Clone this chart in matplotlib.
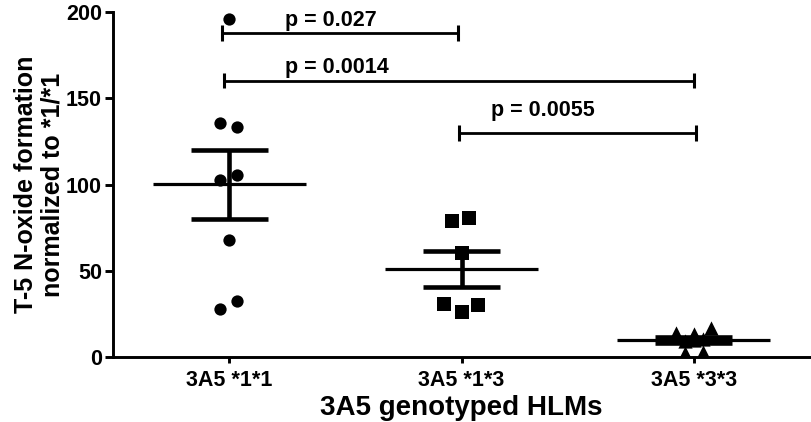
import matplotlib
matplotlib.use('Agg')
import matplotlib.pyplot as plt
import numpy as np

plt.rcParams['font.family'] = ['Liberation Sans', 'DejaVu Sans']
plt.rcParams['font.weight'] = 'bold'

groups = ['3A5 *1*1', '3A5 *1*3', '3A5 *3*3']
# values, normalized to *1/*1
g11 = [196, 135.8, 133.5, 102.6, 105.5, 67.8, 32.5, 27.8]
g13 = [79, 80.6, 60.3, 30.7, 26, 30.3]
g33 = [14, 13.3, 16.8, 2.3, 2.9, 9.5, 10, 10.4]
# horizontal scatter of the points around each group centre
jit11 = [0, -0.039, 0.034, -0.039, 0.034, 0, 0.034, -0.039]
jit13 = [-0.039, 0.034, 0, -0.077, 0, 0.073]
jit33 = [-0.077, 0, 0.073, -0.039, 0.039, -0.039, 0, 0.039]

# brackets: (x start, x end, y, text, text x, text y)
pvals = [(0.97, 1.985, 187.8, 'p = 0.027', 1.241, 192.0),
         (0.978, 3.0, 160.2, 'p = 0.0014', 1.241, 164.4),
         (1.99, 3.01, 130.0, 'p = 0.0055', 2.128, 140.0)]

fig = plt.figure(figsize=(8.12, 4.22), dpi=100)
ax = fig.add_axes([0.1392, 0.154, 0.8583, 0.8175])

data = [g11, g13, g33]
jits = [jit11, jit13, jit33]
markers = ['o', 's', '^']
sizes = [78, 88, 105]
for i, (vals, jit, m, s) in enumerate(zip(data, jits, markers, sizes)):
    x = i + 1
    vals = np.array(vals)
    ax.scatter(x + np.array(jit), vals, marker=m, s=s, color='black', zorder=3, linewidths=0)
    mean = vals.mean()
    sem = vals.std(ddof=1) / np.sqrt(len(vals))
    ax.hlines(mean, x - 0.33, x + 0.33, color='black', lw=2.3, zorder=4)
    ax.vlines(x, mean - sem, mean + sem, color='black', lw=3.3, zorder=4)
    ax.hlines([mean - sem, mean + sem], x - 0.166, x + 0.166, color='black', lw=3.3, zorder=4)

for x0, x1, y, txt, tx, ty in pvals:
    ax.plot([x0, x1], [y, y], color='black', lw=2.0)
    ax.vlines([x0, x1], y - 4.5, y + 4.5, color='black', lw=2.2)
    ax.text(tx, ty, txt, ha='left', va='baseline', fontsize=15.5, fontweight='bold')

ax.set_xlim(0.5, 3.5)
ax.set_ylim(0, 200)
ax.set_xticks([1, 2, 3])
ax.set_xticklabels(groups)
ax.set_yticks([0, 50, 100, 150, 200])
for sp in ['top', 'right']:
    ax.spines[sp].set_visible(False)
for sp in ['left', 'bottom']:
    ax.spines[sp].set_linewidth(2.1)
ax.tick_params(axis='y', width=2.1, length=6, labelsize=15.5, pad=2)
ax.tick_params(axis='x', width=2.1, length=4, labelsize=15.5, pad=5)
ax.set_xlabel('3A5 genotyped HLMs', fontsize=20, fontweight='bold', labelpad=3)
ax.set_ylabel('T-5 N-oxide formation\nnormalized to *1/*1', fontsize=18, fontweight='bold', linespacing=1.12)
ax.yaxis.set_label_coords(-0.07, 0.5)

fig.savefig('out.png', dpi=100)
